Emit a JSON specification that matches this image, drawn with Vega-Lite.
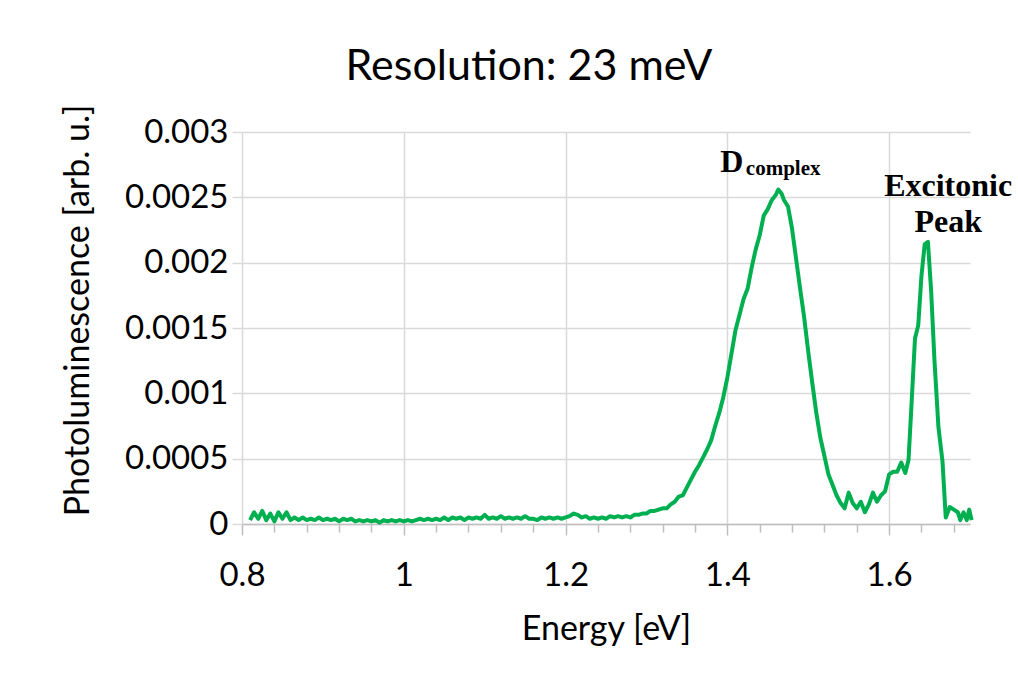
{
  "$schema": "https://vega.github.io/schema/vega-lite/v6.json",
  "autosize": {"type": "none"},
  "padding": {"left": 242, "top": 132, "right": 48, "bottom": 155},
  "width": 728,
  "height": 392,
  "background": "white",
  "config": {"view": {"stroke": null}},
  "title": {"text": "Resolution: 23 meV", "font": "Lato", "fontSize": 43, "fontWeight": "normal", "color": "black", "anchor": "middle", "dx": -77, "dy": 69, "baseline": "alphabetic", "offset": 50},
  "datasets": {
    "spectrum": [
      {"e":0.81,"pl":0.00003},{"e":0.815,"pl":0.00009},{"e":0.82,"pl":0.00004},{"e":0.825,"pl":0.0001},{"e":0.83,"pl":0.00003},{"e":0.835,"pl":0.00008},{"e":0.84,"pl":0.00002},{"e":0.845,"pl":0.00009},{"e":0.85,"pl":0.00004},{"e":0.855,"pl":0.00009},
      {"e":0.86,"pl":0.00003},{"e":0.865,"pl":0.00005},{"e":0.87,"pl":0.00003},{"e":0.875,"pl":0.00005},{"e":0.88,"pl":0.00003},{"e":0.885,"pl":0.00004},{"e":0.89,"pl":0.00003},{"e":0.895,"pl":0.00005},{"e":0.9,"pl":0.00003},{"e":0.905,"pl":0.00004},
      {"e":0.91,"pl":0.00003},{"e":0.915,"pl":0.00004},{"e":0.92,"pl":0.00002},{"e":0.925,"pl":0.00004},{"e":0.93,"pl":0.00003},{"e":0.935,"pl":0.00004},{"e":0.94,"pl":0.00002},{"e":0.945,"pl":0.00003},{"e":0.95,"pl":0.00002},{"e":0.955,"pl":0.00003},
      {"e":0.96,"pl":0.00002},{"e":0.965,"pl":0.00003},{"e":0.97,"pl":0.00001},{"e":0.975,"pl":0.00003},{"e":0.98,"pl":0.00002},{"e":0.985,"pl":0.00003},{"e":0.99,"pl":0.00002},{"e":0.995,"pl":0.00003},{"e":1.0,"pl":0.00002},{"e":1.005,"pl":0.00003},
      {"e":1.01,"pl":0.00002},{"e":1.015,"pl":0.00003},{"e":1.02,"pl":0.00004},{"e":1.025,"pl":0.00003},{"e":1.03,"pl":0.00004},{"e":1.035,"pl":0.00003},{"e":1.04,"pl":0.00004},{"e":1.045,"pl":0.00003},{"e":1.05,"pl":0.00005},{"e":1.055,"pl":0.00003},
      {"e":1.06,"pl":0.00005},{"e":1.065,"pl":0.00004},{"e":1.07,"pl":0.00005},{"e":1.075,"pl":0.00003},{"e":1.08,"pl":0.00005},{"e":1.085,"pl":0.00004},{"e":1.09,"pl":0.00005},{"e":1.095,"pl":0.00004},{"e":1.1,"pl":0.00007},{"e":1.105,"pl":0.00004},
      {"e":1.11,"pl":0.00005},{"e":1.115,"pl":0.00004},{"e":1.12,"pl":0.00006},{"e":1.125,"pl":0.00004},{"e":1.13,"pl":0.00005},{"e":1.135,"pl":0.00004},{"e":1.14,"pl":0.00005},{"e":1.145,"pl":0.00004},{"e":1.15,"pl":0.00006},{"e":1.155,"pl":0.00004},
      {"e":1.16,"pl":0.00004},{"e":1.165,"pl":0.00003},{"e":1.17,"pl":0.00005},{"e":1.175,"pl":0.00004},{"e":1.18,"pl":0.00005},{"e":1.185,"pl":0.00004},{"e":1.19,"pl":0.00005},{"e":1.195,"pl":0.00004},{"e":1.2,"pl":0.00005},{"e":1.205,"pl":0.00006},
      {"e":1.21,"pl":0.00008},{"e":1.215,"pl":0.00007},{"e":1.22,"pl":0.00005},{"e":1.225,"pl":0.00006},{"e":1.23,"pl":0.00004},{"e":1.235,"pl":0.00005},{"e":1.24,"pl":0.00004},{"e":1.245,"pl":0.00005},{"e":1.25,"pl":0.00004},{"e":1.255,"pl":0.00006},
      {"e":1.26,"pl":0.00005},{"e":1.265,"pl":0.00006},{"e":1.27,"pl":0.00005},{"e":1.275,"pl":0.00006},{"e":1.28,"pl":0.00005},{"e":1.285,"pl":0.00007},{"e":1.29,"pl":0.00007},{"e":1.295,"pl":0.00008},{"e":1.3,"pl":0.00008},{"e":1.305,"pl":0.0001},
      {"e":1.31,"pl":0.0001},{"e":1.315,"pl":0.00011},{"e":1.32,"pl":0.00012},{"e":1.325,"pl":0.00012},{"e":1.33,"pl":0.00015},{"e":1.335,"pl":0.00017},{"e":1.34,"pl":0.00021},{"e":1.345,"pl":0.00022},{"e":1.35,"pl":0.00028},{"e":1.355,"pl":0.00034},
      {"e":1.36,"pl":0.0004},{"e":1.365,"pl":0.00045},{"e":1.37,"pl":0.00051},{"e":1.375,"pl":0.00057},{"e":1.38,"pl":0.00064},{"e":1.385,"pl":0.00075},{"e":1.39,"pl":0.00085},{"e":1.395,"pl":0.00097},{"e":1.4,"pl":0.00112},{"e":1.405,"pl":0.0013},
      {"e":1.41,"pl":0.00148},{"e":1.415,"pl":0.0016},{"e":1.42,"pl":0.00172},{"e":1.425,"pl":0.0018},{"e":1.43,"pl":0.00196},{"e":1.435,"pl":0.0021},{"e":1.44,"pl":0.00221},{"e":1.445,"pl":0.00236},{"e":1.45,"pl":0.00241},{"e":1.455,"pl":0.00248},
      {"e":1.46,"pl":0.00252},{"e":1.463,"pl":0.00256},{"e":1.467,"pl":0.00253},{"e":1.47,"pl":0.00248},{"e":1.475,"pl":0.00243},{"e":1.48,"pl":0.00226},{"e":1.485,"pl":0.00203},{"e":1.49,"pl":0.0018},{"e":1.495,"pl":0.00158},{"e":1.5,"pl":0.00132},
      {"e":1.505,"pl":0.00108},{"e":1.51,"pl":0.00085},{"e":1.515,"pl":0.00066},{"e":1.52,"pl":0.00052},{"e":1.525,"pl":0.00038},{"e":1.53,"pl":0.0003},{"e":1.535,"pl":0.00022},{"e":1.54,"pl":0.00016},{"e":1.545,"pl":0.00012},{"e":1.55,"pl":0.00024},
      {"e":1.555,"pl":0.00016},{"e":1.56,"pl":0.00012},{"e":1.565,"pl":0.00017},{"e":1.57,"pl":0.00009},{"e":1.575,"pl":0.00015},{"e":1.58,"pl":0.00024},{"e":1.585,"pl":0.00017},{"e":1.59,"pl":0.00022},{"e":1.595,"pl":0.00025},{"e":1.6,"pl":0.00038},
      {"e":1.605,"pl":0.0004},{"e":1.61,"pl":0.0004},{"e":1.615,"pl":0.00047},{"e":1.62,"pl":0.00039},{"e":1.624,"pl":0.00049},{"e":1.628,"pl":0.00095},{"e":1.632,"pl":0.00142},{"e":1.636,"pl":0.00152},{"e":1.64,"pl":0.0019},{"e":1.644,"pl":0.00214},
      {"e":1.648,"pl":0.00216},{"e":1.652,"pl":0.00178},{"e":1.656,"pl":0.00126},{"e":1.661,"pl":0.00074},{"e":1.666,"pl":0.00048},{"e":1.67,"pl":0.00005},{"e":1.675,"pl":0.00013},{"e":1.68,"pl":0.00011},{"e":1.685,"pl":0.00009},{"e":1.688,"pl":0.00003},
      {"e":1.692,"pl":0.00009},{"e":1.696,"pl":0.00003},{"e":1.699,"pl":0.00011},{"e":1.702,"pl":0.00003}
    ],
    "bigLabels": [
      {"label": "D", "e": 1.4056, "pl": 0.002694},
      {"label": "Excitonic", "e": 1.673, "pl": 0.00251},
      {"label": "Peak", "e": 1.673, "pl": 0.002235}
    ],
    "subLabels": [
      {"label": "complex", "e": 1.4229, "pl": 0.002671}
    ]
  },
  "layer": [
    {
      "data": {"name": "spectrum"},
      "mark": {"type": "line", "color": "#00B050", "strokeWidth": 4, "strokeJoin": "round", "clip": false},
      "encoding": {
        "x": {
          "field": "e", "type": "quantitative",
          "scale": {"domain": [0.8, 1.7], "nice": false, "zero": false},
          "axis": {
            "title": "Energy [eV]",
            "values": [0.8,0.84,0.88,0.92,0.96,1,1.04,1.08,1.12,1.16,1.2,1.24,1.28,1.32,1.36,1.4,1.44,1.48,1.52,1.56,1.6,1.64,1.68],
            "tickCount": 100,
            "format": "~g",
            "labelExpr": "abs((datum.value - 0.8) / 0.2 - round((datum.value - 0.8) / 0.2)) < 0.01 ? datum.label : ''",
            "labelOverlap": false, "labelFlush": false,
            "labelFont": "Lato", "labelFontSize": 33, "labelColor": "black", "labelPadding": 24,
            "titleFont": "Lato", "titleFontSize": 34, "titleFontWeight": "normal", "titleColor": "black", "titlePadding": 20,
            "domainColor": "#BFBFBF", "domainWidth": 1.5,
            "tickColor": "#BFBFBF", "tickWidth": 1.5,
            "tickSize": {"condition": {"test": "abs((datum.value - 0.8) / 0.2 - round((datum.value - 0.8) / 0.2)) < 0.01", "value": 11}, "value": 8},
            "grid": true, "gridColor": "#D9D9D9", "gridWidth": 1.5,
            "gridOpacity": {"condition": {"test": "abs((datum.value - 0.8) / 0.2 - round((datum.value - 0.8) / 0.2)) < 0.01", "value": 1}, "value": 0}
          }
        },
        "y": {
          "field": "pl", "type": "quantitative",
          "scale": {"domain": [0, 0.003], "nice": false},
          "axis": {
            "title": "Photoluminescence [arb. u.]",
            "values": [0, 0.0005, 0.001, 0.0015, 0.002, 0.0025, 0.003],
            "tickCount": 100,
            "format": "~g",
            "labelFont": "Lato", "labelFontSize": 33, "labelColor": "black", "labelPadding": 4,
            "titleFont": "Lato", "titleFontSize": 34, "titleFontWeight": "normal", "titleColor": "black", "titlePadding": 29, "titleY": 178,
            "domain": false,
            "tickColor": "#D9D9D9", "tickWidth": 1.5, "tickSize": 10,
            "grid": true, "gridColor": "#D9D9D9", "gridWidth": 1.5
          }
        }
      }
    },
    {
      "data": {"name": "bigLabels"},
      "mark": {"type": "text", "font": "Liberation Serif", "fontWeight": "bold", "fontSize": 32, "color": "black", "align": "center", "baseline": "alphabetic"},
      "encoding": {
        "x": {"field": "e", "type": "quantitative"},
        "y": {"field": "pl", "type": "quantitative"},
        "text": {"field": "label"}
      }
    },
    {
      "data": {"name": "subLabels"},
      "mark": {"type": "text", "font": "Liberation Serif", "fontWeight": "bold", "fontSize": 21, "color": "black", "align": "left", "baseline": "alphabetic"},
      "encoding": {
        "x": {"field": "e", "type": "quantitative"},
        "y": {"field": "pl", "type": "quantitative"},
        "text": {"field": "label"}
      }
    }
  ]
}
